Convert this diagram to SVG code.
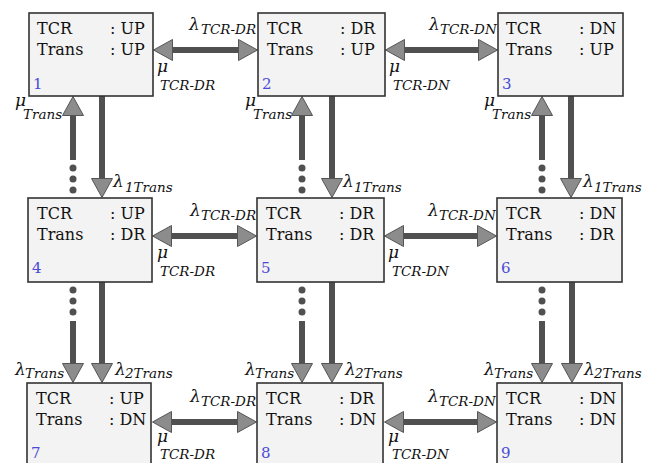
<svg xmlns="http://www.w3.org/2000/svg" width="649" height="463" viewBox="0 0 649 463">
<style>
text{font-family:"DejaVu Serif","Liberation Serif",serif}
.box{fill:#f3f3f3;stroke:#333;stroke-width:1.6}
.t{font-size:16px;fill:#111}
.num{font-size:15px;fill:#4a4ad6}
.g{font-style:italic;font-size:17px;fill:#111}
.s{font-style:italic;font-size:13.5px;fill:#111}
.sh{stroke:#505050;stroke-width:6;fill:none}
.dot{fill:#505050}
</style>
<defs>
<marker id="ah" viewBox="0 0 20 22" refX="0" refY="11" markerWidth="20" markerHeight="22" markerUnits="userSpaceOnUse" orient="auto-start-reverse">
<path d="M0.5,0.5 L19.5,11 L0.5,21.5 Z" fill="#8c8c8c" stroke="#555" stroke-width="1"/>
</marker>
</defs>
<g id="connectors">
<line class="sh" x1="173" y1="50" x2="238" y2="50" marker-start="url(#ah)" marker-end="url(#ah)"/>
<line class="sh" x1="405" y1="50" x2="478" y2="50" marker-start="url(#ah)" marker-end="url(#ah)"/>
<line class="sh" x1="172" y1="236" x2="237" y2="236" marker-start="url(#ah)" marker-end="url(#ah)"/>
<line class="sh" x1="404" y1="236" x2="477" y2="236" marker-start="url(#ah)" marker-end="url(#ah)"/>
<line class="sh" x1="172" y1="422" x2="237" y2="422" marker-start="url(#ah)" marker-end="url(#ah)"/>
<line class="sh" x1="404" y1="422" x2="477" y2="422" marker-start="url(#ah)" marker-end="url(#ah)"/>
<line class="sh" x1="73" y1="160" x2="73" y2="116" marker-end="url(#ah)"/>
<circle class="dot" cx="73" cy="168" r="3.5"/><circle class="dot" cx="73" cy="179" r="3.5"/><circle class="dot" cx="73" cy="190" r="3.5"/>
<line class="sh" x1="102" y1="96" x2="102" y2="178" marker-end="url(#ah)"/>
<line class="sh" x1="302" y1="160" x2="302" y2="116" marker-end="url(#ah)"/>
<circle class="dot" cx="302" cy="168" r="3.5"/><circle class="dot" cx="302" cy="179" r="3.5"/><circle class="dot" cx="302" cy="190" r="3.5"/>
<line class="sh" x1="332" y1="96" x2="332" y2="178" marker-end="url(#ah)"/>
<line class="sh" x1="542" y1="160" x2="542" y2="116" marker-end="url(#ah)"/>
<circle class="dot" cx="542" cy="168" r="3.5"/><circle class="dot" cx="542" cy="179" r="3.5"/><circle class="dot" cx="542" cy="190" r="3.5"/>
<line class="sh" x1="571" y1="96" x2="571" y2="178" marker-end="url(#ah)"/>
<circle class="dot" cx="73" cy="290" r="3.5"/><circle class="dot" cx="73" cy="301" r="3.5"/><circle class="dot" cx="73" cy="312" r="3.5"/>
<line class="sh" x1="73" y1="321" x2="73" y2="363" marker-end="url(#ah)"/>
<line class="sh" x1="102" y1="282" x2="102" y2="363" marker-end="url(#ah)"/>
<circle class="dot" cx="302" cy="290" r="3.5"/><circle class="dot" cx="302" cy="301" r="3.5"/><circle class="dot" cx="302" cy="312" r="3.5"/>
<line class="sh" x1="302" y1="321" x2="302" y2="363" marker-end="url(#ah)"/>
<line class="sh" x1="332" y1="282" x2="332" y2="363" marker-end="url(#ah)"/>
<circle class="dot" cx="542" cy="290" r="3.5"/><circle class="dot" cx="542" cy="301" r="3.5"/><circle class="dot" cx="542" cy="312" r="3.5"/>
<line class="sh" x1="542" y1="321" x2="542" y2="363" marker-end="url(#ah)"/>
<line class="sh" x1="572" y1="282" x2="572" y2="363" marker-end="url(#ah)"/>
<text class="g" x="189" y="30">λ</text><text class="s" x="201" y="34">TCR-DR</text>
<text class="g" x="157" y="72">μ</text><text class="s" x="160" y="90">TCR-DR</text>
<text class="g" x="429" y="30">λ</text><text class="s" x="440" y="34">TCR-DN</text>
<text class="g" x="389" y="72">μ</text><text class="s" x="393" y="90">TCR-DN</text>
<text class="g" x="190" y="216">λ</text><text class="s" x="201" y="220">TCR-DR</text>
<text class="g" x="157" y="258">μ</text><text class="s" x="160" y="276">TCR-DR</text>
<text class="g" x="428" y="216">λ</text><text class="s" x="439" y="220">TCR-DN</text>
<text class="g" x="388" y="258">μ</text><text class="s" x="392" y="276">TCR-DN</text>
<text class="g" x="190" y="402">λ</text><text class="s" x="201" y="406">TCR-DR</text>
<text class="g" x="157" y="442">μ</text><text class="s" x="160" y="459">TCR-DR</text>
<text class="g" x="428" y="402">λ</text><text class="s" x="439" y="406">TCR-DN</text>
<text class="g" x="388" y="442">μ</text><text class="s" x="392" y="459">TCR-DN</text>
<text class="g" x="15" y="106">μ</text><text class="s" x="23" y="119">Trans</text>
<text class="g" x="113" y="187">λ</text><text class="s" x="125" y="192">1Trans</text>
<text class="g" x="245" y="106">μ</text><text class="s" x="253" y="119">Trans</text>
<text class="g" x="343" y="187">λ</text><text class="s" x="354" y="192">1Trans</text>
<text class="g" x="484" y="106">μ</text><text class="s" x="492" y="119">Trans</text>
<text class="g" x="583" y="187">λ</text><text class="s" x="594" y="192">1Trans</text>
<text class="g" x="15" y="375">λ</text><text class="s" x="25" y="378">Trans</text>
<text class="g" x="115" y="375">λ</text><text class="s" x="125" y="378">2Trans</text>
<text class="g" x="245" y="375">λ</text><text class="s" x="255" y="378">Trans</text>
<text class="g" x="345" y="375">λ</text><text class="s" x="355" y="378">2Trans</text>
<text class="g" x="484" y="375">λ</text><text class="s" x="494" y="378">Trans</text>
<text class="g" x="584" y="375">λ</text><text class="s" x="594" y="378">2Trans</text>
</g>
<g id="n1"><rect class="box" x="29" y="13" width="124" height="83"/><text class="t" x="37" y="34">TCR</text><text class="t" x="110" y="34">: UP</text><text class="t" x="37" y="55">Trans</text><text class="t" x="110" y="55">: UP</text><text class="num" x="33" y="89">1</text></g>
<g id="n2"><rect class="box" x="258" y="13" width="127" height="83"/><text class="t" x="267" y="34">TCR</text><text class="t" x="340" y="34">: DR</text><text class="t" x="267" y="55">Trans</text><text class="t" x="340" y="55">: UP</text><text class="num" x="262" y="89">2</text></g>
<g id="n3"><rect class="box" x="498" y="13" width="125" height="83"/><text class="t" x="506" y="34">TCR</text><text class="t" x="579" y="34">: DN</text><text class="t" x="506" y="55">Trans</text><text class="t" x="579" y="55">: UP</text><text class="num" x="502" y="89">3</text></g>
<g id="n4"><rect class="box" x="28" y="198" width="124" height="84"/><text class="t" x="37" y="219">TCR</text><text class="t" x="110" y="219">: UP</text><text class="t" x="37" y="240">Trans</text><text class="t" x="110" y="240">: DR</text><text class="num" x="32" y="273">4</text></g>
<g id="n5"><rect class="box" x="257" y="198" width="127" height="84"/><text class="t" x="266" y="219">TCR</text><text class="t" x="339" y="219">: DR</text><text class="t" x="266" y="240">Trans</text><text class="t" x="339" y="240">: DR</text><text class="num" x="261" y="273">5</text></g>
<g id="n6"><rect class="box" x="497" y="198" width="125" height="84"/><text class="t" x="506" y="219">TCR</text><text class="t" x="579" y="219">: DN</text><text class="t" x="506" y="240">Trans</text><text class="t" x="579" y="240">: DR</text><text class="num" x="501" y="273">6</text></g>
<g id="n7"><rect class="box" x="27" y="383" width="124" height="84"/><text class="t" x="36" y="404">TCR</text><text class="t" x="109" y="404">: UP</text><text class="t" x="36" y="425">Trans</text><text class="t" x="109" y="425">: DN</text><text class="num" x="31" y="458">7</text></g>
<g id="n8"><rect class="box" x="257" y="383" width="126" height="84"/><text class="t" x="266" y="404">TCR</text><text class="t" x="339" y="404">: DR</text><text class="t" x="266" y="425">Trans</text><text class="t" x="339" y="425">: DN</text><text class="num" x="261" y="458">8</text></g>
<g id="n9"><rect class="box" x="497" y="383" width="125" height="84"/><text class="t" x="506" y="404">TCR</text><text class="t" x="579" y="404">: DN</text><text class="t" x="506" y="425">Trans</text><text class="t" x="579" y="425">: DN</text><text class="num" x="501" y="458">9</text></g>
</svg>
